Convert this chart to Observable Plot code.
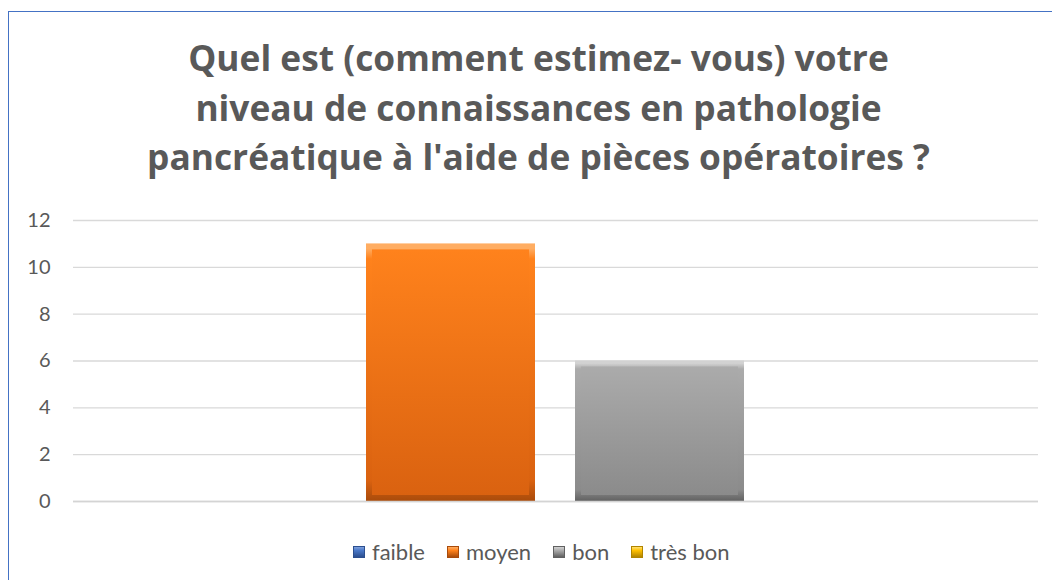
<!DOCTYPE html>
<html>
<head>
<meta charset="utf-8">
<script src="https://cdn.jsdelivr.net/npm/d3@7"></script>
<script src="https://cdn.jsdelivr.net/npm/@observablehq/plot@0.6"></script>
<style>
  html, body { margin: 0; padding: 0; background: #fff; }
  #wrap { position: relative; width: 1052px; height: 580px; overflow: hidden; background: #fff; font-family: Lato, "Open Sans", sans-serif; }
  #frame { position: absolute; left: 8px; top: 11px; width: 1100px; height: 600px; border-left: 1.5px solid #4472C4; border-top: 1.5px solid #4472C4; box-sizing: border-box; }
  #title { position: absolute; left: 0; width: 1077px; top: 33px; text-align: center; color: #595959; font-family: "Open Sans", Lato, sans-serif; font-weight: 700; font-size: 35px; line-height: 49.5px; }
  #chart { position: absolute; left: 0; top: 200px; }
  #legend { position: absolute; left: 353px; top: 538px; display: flex; align-items: center; color: #595959; font-size: 22px; }
  #legend .item { display: flex; align-items: center; margin-right: 22px; }
  #legend .sw { width: 12px; height: 12px; margin-right: 7px; box-sizing: border-box; }
</style>
</head>
<body>
<div id="wrap">
  <div id="frame"></div>
  <div id="title">Quel est (comment estimez- vous) votre<br>niveau de connaissances en pathologie<br>pancréatique à l'aide de pièces opératoires ?</div>
  <div id="chart"></div>
  <div id="legend"></div>
</div>
<script>
// Data
const series = ["faible", "moyen", "bon", "très bon"];
const values = [0, 11, 6, 0];
const yTicks = [0, 2, 4, 6, 8, 10, 12];

// Styles (colors per series: light edge, body top, body bottom, dark edge)
const palette = [
  ["#7ea0dc", "#4a78c8", "#3a64b0", "#2c4f8f"],
  ["#ffad62", "#ff821c", "#da6210", "#a94b0b"],
  ["#d2d2d2", "#ababab", "#8b8b8b", "#616161"],
  ["#ffe070", "#ffc000", "#e0a800", "#b08400"]
];

const data = series.map((s, i) => ({series: s, value: values[i]}));
const ids = series.map((s, i) => "g" + i);

// fit title width (longest line ≈ 783px in reference)
(function fitTitle() {
  const c = document.createElement("canvas").getContext("2d");
  c.font = "700 100px 'Open Sans'";
  const w = c.measureText("pancréatique à l'aide de pièces opératoires ?").width;
  const fs = Math.min(40, Math.max(28, 783 * 100 / w));
  document.getElementById("title").style.fontSize = fs.toFixed(1) + "px";
})();

const plot = Plot.plot({
  width: 1052,
  height: 330,
  marginTop: 20,
  marginBottom: 29,
  marginLeft: 73,
  marginRight: 14,
  style: {fontFamily: "Lato, 'Open Sans', sans-serif", fontSize: "20px", color: "#595959", background: "transparent"},
  x: {domain: series, paddingInner: 0.19, paddingOuter: 0.393, axis: null},
  y: {domain: [0, 12], ticks: yTicks, tickSize: 0, tickPadding: 23, label: null},
  color: {domain: series, range: ids.map(id => `url(#${id}e)`)},
  marks: [
    Plot.gridY(yTicks, {stroke: "#d9d9d9", strokeOpacity: 1, strokeWidth: 1.3}),
    Plot.barY(data, {x: "series", y: "value", fill: "series"}),
    Plot.barY(data.filter(d => d.value > 0), {x: "series", y: "value", fill: d => `url(#g${series.indexOf(d.series)}b)`, inset: 6}),
    Plot.ruleY([0], {stroke: "#d4d4d4", strokeWidth: 1.3})
  ]
});

// gradient defs for the bevel look
const svg = d3.select(plot);
const defs = svg.insert("defs", ":first-child");
palette.forEach((p, i) => {
  const e = defs.append("linearGradient").attr("id", `g${i}e`).attr("x1", 0).attr("y1", 0).attr("x2", 0).attr("y2", 1);
  e.append("stop").attr("offset", "0%").attr("stop-color", p[0]);
  e.append("stop").attr("offset", "2%").attr("stop-color", p[0]);
  e.append("stop").attr("offset", "6%").attr("stop-color", p[1]);
  e.append("stop").attr("offset", "92%").attr("stop-color", p[2]);
  e.append("stop").attr("offset", "100%").attr("stop-color", p[3]);
  const b = defs.append("linearGradient").attr("id", `g${i}b`).attr("x1", 0).attr("y1", 0).attr("x2", 0).attr("y2", 1);
  b.append("stop").attr("offset", "0%").attr("stop-color", p[1]);
  b.append("stop").attr("offset", "100%").attr("stop-color", p[2]);
});
document.getElementById("chart").appendChild(plot);

// legend
const legend = d3.select("#legend");
series.forEach((s, i) => {
  const it = legend.append("div").attr("class", "item");
  it.append("div").attr("class", "sw")
    .style("background", `linear-gradient(${palette[i][0]}, ${palette[i][1]} 35%, ${palette[i][3]})`)
    .style("border", `1px solid ${palette[i][3]}`);
  it.append("span").text(s);
});
</script>
</body>
</html>
